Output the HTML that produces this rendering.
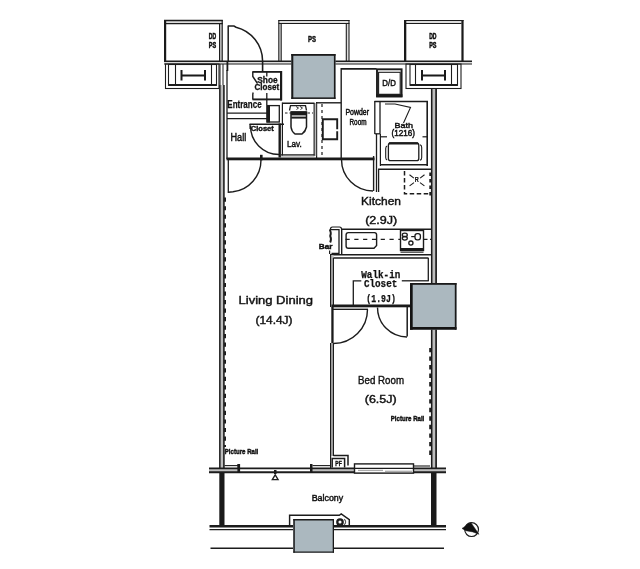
<!DOCTYPE html>
<html><head><meta charset="utf-8"><style>
html,body{margin:0;padding:0;background:#fff;width:640px;height:569px;overflow:hidden}
svg{display:block;will-change:transform}
</style></head><body>
<svg width="640" height="569" viewBox="0 0 640 569">
<g stroke="#1c1c1c" fill="none" stroke-width="1">
<rect x="166" y="21" width="57" height="2.5" fill="#dcdcdc" stroke="none" />
<rect x="220" y="23" width="2" height="38" fill="#dcdcdc" stroke="none" />
<rect x="164" y="20" width="2.2" height="42" fill="#1a1a1a" stroke="none" />
<line x1="164" y1="20.5" x2="222.8" y2="20.5" stroke-width="1.3" />
<line x1="166" y1="23.6" x2="222.8" y2="23.6" stroke-width="1.3" />
<line x1="219.6" y1="23" x2="219.6" y2="61" stroke-width="1.2" />
<line x1="222.2" y1="20" x2="222.2" y2="61" stroke-width="1.2" />
<text x="208.8" y="39.2" font-size="9" font-weight="bold" font-family='"Liberation Sans",sans-serif' textLength="7.3" lengthAdjust="spacingAndGlyphs" stroke="#111" stroke-width="0.6" fill="#111" >DD</text>
<text x="208.8" y="48" font-size="9" font-weight="bold" font-family='"Liberation Sans",sans-serif' textLength="7.3" lengthAdjust="spacingAndGlyphs" stroke="#111" stroke-width="0.6" fill="#111" >PS</text>
<rect x="279" y="21" width="70" height="2.5" fill="#dcdcdc" stroke="none" />
<rect x="279" y="23" width="2" height="38" fill="#dcdcdc" stroke="none" />
<rect x="346.5" y="23" width="2.2" height="38" fill="#dcdcdc" stroke="none" />
<line x1="278.5" y1="20.5" x2="349.5" y2="20.5" stroke-width="1.2" />
<line x1="278.5" y1="23.5" x2="349.5" y2="23.5" stroke-width="1.2" />
<line x1="278.8" y1="20" x2="278.8" y2="61" stroke-width="1.1" />
<line x1="281.2" y1="23" x2="281.2" y2="61" stroke-width="1.1" />
<line x1="346.3" y1="23" x2="346.3" y2="61" stroke-width="1.1" />
<line x1="349" y1="20" x2="349" y2="61" stroke-width="1.1" />
<text x="308" y="42.2" font-size="9" font-weight="bold" font-family='"Liberation Sans",sans-serif' textLength="8" lengthAdjust="spacingAndGlyphs" stroke="#111" stroke-width="0.5" fill="#111" >PS</text>
<rect x="406" y="21" width="56" height="2.5" fill="#dcdcdc" stroke="none" />
<rect x="404" y="20" width="2.3" height="42" fill="#1a1a1a" stroke="none" />
<rect x="461.4" y="20" width="2.2" height="42" fill="#1a1a1a" stroke="none" />
<line x1="404" y1="20.5" x2="463.5" y2="20.5" stroke-width="1.2" />
<line x1="406" y1="23.5" x2="461.5" y2="23.5" stroke-width="1.2" />
<text x="429.2" y="39.2" font-size="9" font-weight="bold" font-family='"Liberation Sans",sans-serif' textLength="7.3" lengthAdjust="spacingAndGlyphs" stroke="#111" stroke-width="0.6" fill="#111" >DD</text>
<text x="429.2" y="48" font-size="9" font-weight="bold" font-family='"Liberation Sans",sans-serif' textLength="7.3" lengthAdjust="spacingAndGlyphs" stroke="#111" stroke-width="0.6" fill="#111" >PS</text>
<rect x="164" y="61.6" width="308" height="2" fill="#dcdcdc" stroke="none" />
<line x1="164" y1="61.3" x2="472" y2="61.3" stroke-width="1.4" />
<line x1="164" y1="64" x2="472" y2="64" stroke-width="1.1" />
<rect x="165.5" y="64" width="53.5" height="24.5" fill="none" stroke-width="1.1" />
<rect x="168.5" y="64.5" width="48.0" height="20.8" fill="none" stroke-width="1.1" />
<line x1="168.5" y1="85" x2="216.5" y2="85" stroke-width="1.8" />
<line x1="175.5" y1="64.5" x2="175.5" y2="85" stroke-width="1.1" />
<line x1="211.5" y1="64.5" x2="211.5" y2="85" stroke-width="1.1" />
<rect x="180.5" y="70" width="2" height="10.5" fill="#1a1a1a" stroke="none" />
<rect x="204" y="70" width="2" height="10.5" fill="#1a1a1a" stroke="none" />
<rect x="181.0" y="74.5" width="23.5" height="2" fill="#1a1a1a" stroke="none" />
<rect x="406" y="64" width="55" height="24.5" fill="none" stroke-width="1.1" />
<rect x="410" y="64.5" width="47.5" height="20.8" fill="none" stroke-width="1.1" />
<line x1="410" y1="85" x2="457.5" y2="85" stroke-width="1.8" />
<line x1="415.5" y1="64.5" x2="415.5" y2="85" stroke-width="1.1" />
<line x1="451.5" y1="64.5" x2="451.5" y2="85" stroke-width="1.1" />
<rect x="421" y="70" width="2" height="10.5" fill="#1a1a1a" stroke="none" />
<rect x="444" y="70" width="2" height="10.5" fill="#1a1a1a" stroke="none" />
<rect x="421.5" y="74.5" width="23" height="2" fill="#1a1a1a" stroke="none" />
<rect x="291.3" y="54" width="44.2" height="44.9" fill="#abb8bf" stroke="none" />
<rect x="291.3" y="54" width="2" height="44.9" fill="#1a1a1a" stroke="none" />
<rect x="291.3" y="54" width="44.2" height="1.8" fill="#1a1a1a" stroke="none" />
<rect x="333.9" y="54" width="1.6" height="44.9" fill="#1a1a1a" stroke="none" />
<rect x="291.3" y="97.4" width="44.2" height="1.5" fill="#1a1a1a" stroke="none" />
<line x1="220" y1="64" x2="220" y2="85" stroke-width="1" />
<line x1="223" y1="64" x2="223" y2="85" stroke-width="1" />
<rect x="219.2" y="85" width="5.2" height="383" fill="#bdbdbd" stroke="none" />
<line x1="219.85" y1="85" x2="219.85" y2="468" stroke-width="1.5" />
<line x1="223.9" y1="85" x2="223.9" y2="468" stroke-width="1.55" />
<rect x="431.2" y="89" width="5" height="194" fill="#bdbdbd" stroke="none" />
<line x1="431.7" y1="89" x2="431.7" y2="283" stroke-width="1.55" />
<line x1="436.1" y1="89" x2="436.1" y2="283" stroke-width="1.7" />
<rect x="431.2" y="329" width="5" height="139" fill="#bdbdbd" stroke="none" />
<line x1="431.7" y1="329" x2="431.7" y2="468" stroke-width="1.55" />
<line x1="436.1" y1="329" x2="436.1" y2="468" stroke-width="1.7" />
<line x1="225.05" y1="197.6" x2="225.05" y2="447" stroke-width="1.9" stroke-dasharray="4.2 4.33"/>
<line x1="430.15" y1="347.9" x2="430.15" y2="456" stroke-width="1.9" stroke-dasharray="4.4 4.15"/>
<line x1="228.2" y1="25.5" x2="228.2" y2="62" stroke-width="1.5" />
<path d="M228.2 26 L234 26 L236 27.2 A35 35 0 0 1 262.6 61" stroke-width="1.5" fill="none" />
<rect x="226.5" y="61" width="1.8" height="10" fill="#1a1a1a" stroke="none" />
<rect x="261.8" y="61" width="1.6" height="10" fill="#1a1a1a" stroke="none" />
<line x1="227" y1="70" x2="227" y2="159" stroke-width="1.3" />
<line x1="252.5" y1="71.9" x2="282" y2="71.9" stroke-width="1.8" />
<rect x="280" y="71" width="2.2" height="29.5" fill="#1a1a1a" stroke="none" />
<line x1="252.5" y1="99.4" x2="282" y2="99.4" stroke-width="1.9" />
<path d="M252.8 71.5 V76.5 L257.5 83.5 M253.2 92.5 L252.8 94 V99.5" stroke-width="1.4" fill="none" />
<line x1="266.8" y1="72" x2="266.8" y2="76.5" stroke-width="1.3" />
<line x1="266.8" y1="93" x2="266.8" y2="105" stroke-width="1.3" />
<text x="257.3" y="83.4" font-size="8.5" font-weight="bold" font-family='"Liberation Sans",sans-serif' textLength="20.3" lengthAdjust="spacingAndGlyphs" stroke="#111" stroke-width="0.3" fill="#111" >Shoe</text>
<text x="254.5" y="90.3" font-size="8.5" font-weight="bold" font-family='"Liberation Sans",sans-serif' textLength="24.7" lengthAdjust="spacingAndGlyphs" stroke="#111" stroke-width="0.3" fill="#111" >Closet</text>
<text x="227.3" y="108.1" font-size="10" font-weight="bold" font-family='"Liberation Sans",sans-serif' textLength="34.3" lengthAdjust="spacingAndGlyphs" stroke="#111" stroke-width="0.25" fill="#111" >Entrance</text>
<line x1="227" y1="113.2" x2="267" y2="113.2" stroke-width="1.2" />
<line x1="227" y1="118.6" x2="267" y2="118.6" stroke-width="1.2" />
<rect x="266.5" y="105" width="3.5" height="17.5" fill="#1a1a1a" stroke="none" />
<rect x="267" y="105.6" width="12.3" height="16.4" fill="none" stroke-width="1.3" />
<line x1="249.5" y1="124.2" x2="284" y2="124.2" stroke-width="1.5" />
<line x1="250" y1="124" x2="250" y2="129" stroke-width="1.1" />
<text x="250.8" y="130.5" font-size="6.3" font-weight="bold" font-family='"Liberation Sans",sans-serif' textLength="23" lengthAdjust="spacingAndGlyphs" stroke="#111" stroke-width="0.35" fill="#111" >Closet</text>
<text x="230.5" y="140.5" font-size="10" font-weight="normal" font-family='"Liberation Sans",sans-serif' textLength="15.7" lengthAdjust="spacingAndGlyphs" stroke="#111" stroke-width="0.45" fill="#111" >Hall</text>
<path d="M250.5 125.5 A28.5 28.5 0 0 0 279 154.5" stroke-width="1.4" fill="none" />
<rect x="278.5" y="123.5" width="2.4" height="34" fill="#1a1a1a" stroke="none" />
<rect x="226.5" y="157.5" width="148" height="2.8" fill="#1a1a1a" stroke="none" />
<line x1="282.4" y1="102.5" x2="282.4" y2="156" stroke-width="1.2" />
<line x1="282.5" y1="103.2" x2="314.5" y2="103.2" stroke-width="1.5" />
<line x1="314.2" y1="103" x2="314.2" y2="156" stroke-width="1.3" />
<line x1="316.6" y1="102" x2="316.6" y2="158" stroke-width="1.2" />
<rect x="314.8" y="103" width="1.4" height="53" fill="#bbb" stroke="none" />
<rect x="281" y="155.4" width="33.5" height="1.6" fill="#ccc" stroke="none" />
<line x1="281" y1="154.8" x2="314.5" y2="154.8" stroke-width="1.2" />
<line x1="285" y1="113" x2="313" y2="113" stroke-width="1.1" stroke-dasharray="2.5 2"/>
<path d="M289.5 110.5 L290.5 105.6 H305.5 L306.5 110.5" stroke-width="1.3" fill="none" />
<path d="M296 106.5 L298.5 108 L296.5 109.5 M300 106.5 L302.5 108 L300.5 109.5" stroke-width="0.9" fill="none" />
<path d="M291 112 L306.5 112 L306.5 127 Q305.5 131.5 302 134 L295 134 Q291.5 131.5 291 127 Z" stroke-width="1.5" fill="none" />
<rect x="291" y="111.4" width="15.5" height="4" fill="#1a1a1a" stroke="none" />
<line x1="291.2" y1="117.6" x2="306.2" y2="117.6" stroke-width="2" />
<text x="287" y="147.3" font-size="9.3" font-weight="normal" font-family='"Liberation Sans",sans-serif' textLength="14.8" lengthAdjust="spacingAndGlyphs" stroke="#111" stroke-width="0.45" fill="#111" >Lav.</text>
<line x1="316.5" y1="102.8" x2="341" y2="102.8" stroke-width="1.4" />
<line x1="322" y1="104" x2="322" y2="156" stroke-width="1.2" stroke-dasharray="3 3"/>
<path d="M337.2 129.3 V119.3 H322.8 V139.3 H337.2 V131.2" stroke-width="1.9" fill="none" />
<line x1="341.2" y1="68" x2="341.2" y2="159" stroke-width="1.4" />
<line x1="341" y1="68.9" x2="376.5" y2="68.9" stroke-width="1.9" />
<text x="345.5" y="115" font-size="8.8" font-weight="normal" font-family='"Liberation Sans",sans-serif' textLength="23.5" lengthAdjust="spacingAndGlyphs" stroke="#111" stroke-width="0.5" fill="#111" >Powder</text>
<text x="349.5" y="125" font-size="8.8" font-weight="normal" font-family='"Liberation Sans",sans-serif' textLength="17" lengthAdjust="spacingAndGlyphs" stroke="#111" stroke-width="0.5" fill="#111" >Room</text>
<line x1="374.8" y1="101" x2="374.8" y2="134" stroke-width="1.3" />
<line x1="380" y1="101" x2="380" y2="134" stroke-width="1.3" />
<line x1="374.8" y1="133.8" x2="380" y2="133.8" stroke-width="1.3" />
<line x1="376.5" y1="134" x2="376.5" y2="192" stroke-width="1.3" />
<line x1="378.6" y1="169" x2="378.6" y2="192" stroke-width="1.3" />
<line x1="373.6" y1="156" x2="373.6" y2="191" stroke-width="1.4" />
<path d="M341.5 159.5 A31.5 31.5 0 0 0 373 191" stroke-width="1.4" fill="none" />
<rect x="377" y="69.3" width="24.6" height="27" fill="none" stroke-width="1.9" />
<rect x="378.6" y="72.3" width="21.6" height="22" fill="none" stroke-width="1.1" />
<rect x="376.2" y="94.2" width="26.2" height="3.1" fill="#1a1a1a" stroke="none" />
<text x="382.3" y="86" font-size="8.8" font-weight="normal" font-family='"Liberation Sans",sans-serif' textLength="13.5" lengthAdjust="spacingAndGlyphs" stroke="#111" stroke-width="0.45" fill="#111" >D/D</text>
<line x1="374.5" y1="101.5" x2="428" y2="101.5" stroke-width="1.4" />
<line x1="427.2" y1="101.5" x2="427.2" y2="166" stroke-width="1.6" />
<line x1="380" y1="164.7" x2="428" y2="164.7" stroke-width="1.6" />
<line x1="378" y1="169.2" x2="431" y2="169.2" stroke-width="1.5" />
<path d="M385 104 L395 104 L410.5 107.5 L403.5 123" stroke-width="1.1" fill="none" />
<text x="394.5" y="127.8" font-size="8" font-weight="normal" font-family='"Liberation Sans",sans-serif' textLength="18.5" lengthAdjust="spacingAndGlyphs" stroke="#111" stroke-width="0.45" fill="#111" >Bath</text>
<text x="391.5" y="136.3" font-size="8.3" font-weight="normal" font-family='"Liberation Sans",sans-serif' textLength="23.5" lengthAdjust="spacingAndGlyphs" stroke="#111" stroke-width="0.45" fill="#111" >(1216)</text>
<line x1="381" y1="136.8" x2="387" y2="136.8" stroke-width="1.2" />
<line x1="422.5" y1="136.8" x2="427.5" y2="136.8" stroke-width="1.2" />
<path d="M390.5 142.8 H416.6 Q418.8 142.8 418.8 145.2 V158.4 Q418.8 160.6 416.6 160.6 H390.5 Q388.4 160.6 388.4 158.4 V145.2 Q388.4 142.8 390.5 142.8 Z" stroke-width="1.3" fill="none" />
<line x1="389" y1="143.4" x2="418" y2="143.4" stroke-width="2.2" />
<path d="M387.2 146 Q385.7 146.5 385.7 148.5 V157.5 Q385.7 159.5 387.2 160" stroke-width="1.1" fill="none" />
<path d="M420 144.8 Q421.7 145.3 421.7 147.5 V157.5 Q421.7 159.7 420 160.3" stroke-width="1.1" fill="none" />
<line x1="380.4" y1="134" x2="380.4" y2="166" stroke-width="1.2" />
<path d="M404.5 171 V193.8 H430" stroke-width="1.5" fill="none" stroke-dasharray="4.5 2.5"/>
<line x1="430.4" y1="172.5" x2="430.4" y2="196" stroke-width="2.2" stroke-dasharray="3.5 3"/>
<line x1="409.5" y1="174.8" x2="424.5" y2="186" stroke-width="1.1" stroke-dasharray="5.5 7.6"/>
<line x1="424.5" y1="174.8" x2="409.5" y2="186" stroke-width="1.1" stroke-dasharray="5.5 7.6"/>
<text x="414.8" y="181.8" font-size="6.5" font-weight="bold" font-family='"Liberation Sans",sans-serif' textLength="4" lengthAdjust="spacingAndGlyphs" stroke="#111" stroke-width="0.2" fill="#111" >R</text>
<text x="361" y="204.6" font-size="10.5" font-weight="normal" font-family='"Liberation Sans",sans-serif' textLength="40" lengthAdjust="spacingAndGlyphs" stroke="#111" stroke-width="0.4" fill="#111" >Kitchen</text>
<text x="365.2" y="224.2" font-size="10.2" font-weight="normal" font-family='"Liberation Sans",sans-serif' textLength="32" lengthAdjust="spacingAndGlyphs" stroke="#111" stroke-width="0.4" fill="#111" >(2.9J)</text>
<path d="M330.4 229.5 Q330.4 227 332.5 227 H339.5 Q341.6 227 341.6 229.5" stroke-width="1.2" fill="none" />
<path d="M329.6 229.6 H339 V253.3 H331.5" stroke-width="1.3" fill="none" />
<path d="M329.8 229.6 Q331.6 233 330.2 236 Q331.8 239 330.2 242.5" stroke-width="1.9" fill="none" />
<line x1="329.6" y1="250.5" x2="329.6" y2="254" stroke-width="1.2" />
<line x1="341.5" y1="229.2" x2="431" y2="229.2" stroke-width="1.5" />
<line x1="341.7" y1="229" x2="341.7" y2="255" stroke-width="1.4" />
<line x1="330" y1="254.8" x2="431" y2="254.8" stroke-width="1.5" />
<path d="M348.3 232.6 H374.4 Q376.6 232.6 376.6 234.8 V245.5 L374 248.3 H348.3 Q346.1 248.3 346.1 246.1 V234.8 Q346.1 232.6 348.3 232.6 Z" stroke-width="1.4" fill="none" />
<line x1="345.5" y1="239.4" x2="400" y2="239.4" stroke-width="1.4" stroke-dasharray="4.2 4.6"/>
<line x1="424" y1="239.3" x2="431" y2="239.3" stroke-width="1.3" stroke-dasharray="3.5 2.5"/>
<rect x="400.5" y="230.5" width="23" height="20" fill="none" stroke-width="1.4" />
<rect x="400.5" y="248" width="23" height="2.6" fill="#1a1a1a" stroke="none" />
<line x1="400.5" y1="252.2" x2="423.5" y2="252.2" stroke-width="1" />
<ellipse cx="404.8" cy="234.9" rx="2.5" ry="1.8" stroke-width="1.3"/>
<ellipse cx="404.8" cy="238.3" rx="2.5" ry="1.8" stroke-width="1.3"/>
<rect x="415" y="233.6" width="5.4" height="6.2" rx="2.2" stroke-width="1.3"/>
<circle cx="410.9" cy="243.1" r="2.1" stroke-width="1.3"/>
<line x1="411.2" y1="236.6" x2="415" y2="236.6" stroke-width="1.2" />
<text x="318.7" y="248.6" font-size="7.2" font-weight="bold" font-family='"Liberation Sans",sans-serif' textLength="13.8" lengthAdjust="spacingAndGlyphs" stroke="#111" stroke-width="0.4" fill="#111" >Bar</text>
<rect x="330.2" y="255" width="3.4" height="52" fill="#bdbdbd" stroke="none" />
<line x1="330.6" y1="255" x2="330.6" y2="307" stroke-width="1.2" />
<line x1="333.4" y1="258" x2="333.4" y2="307" stroke-width="1.2" />
<line x1="333.4" y1="258" x2="428.5" y2="258" stroke-width="1.4" />
<line x1="428.3" y1="258" x2="428.3" y2="281" stroke-width="1.3" />
<path d="M353.3 305 V280.8 H361.3" stroke-width="1.3" fill="none" />
<line x1="401.8" y1="280.8" x2="428.8" y2="280.8" stroke-width="1.3" />
<text x="361.3" y="278.4" font-size="10.5" font-weight="bold" font-family='"Liberation Mono",monospace' textLength="39" lengthAdjust="spacingAndGlyphs" stroke="#111" stroke-width="0.25" fill="#111" >Walk-in</text>
<text x="363.9" y="287" font-size="10.5" font-weight="bold" font-family='"Liberation Mono",monospace' textLength="33.4" lengthAdjust="spacingAndGlyphs" stroke="#111" stroke-width="0.25" fill="#111" >Closet</text>
<text x="366.3" y="302.2" font-size="10.5" font-weight="bold" font-family='"Liberation Mono",monospace' textLength="29.5" lengthAdjust="spacingAndGlyphs" stroke="#111" stroke-width="0.25" fill="#111" >(1.9J)</text>
<rect x="331.5" y="304.5" width="79" height="2.8" fill="#1a1a1a" stroke="none" />
<rect x="332" y="307.5" width="36" height="2.2" fill="#aaa" stroke="none" />
<line x1="332" y1="309.5" x2="368" y2="309.5" stroke-width="1" />
<rect x="331.3" y="307" width="2.3" height="36.5" fill="#1a1a1a" stroke="none" />
<path d="M367.5 309.5 A34 34 0 0 1 333.5 343.5" stroke-width="1.4" fill="none" />
<line x1="407.2" y1="305" x2="407.2" y2="336.5" stroke-width="1.5" />
<path d="M377.5 307.5 A29.5 29.5 0 0 0 407 337" stroke-width="1.4" fill="none" />
<rect x="410" y="283" width="46.5" height="46.7" fill="#abb8bf" stroke="none" />
<rect x="410" y="283" width="2.7" height="46.7" fill="#141414" stroke="none" />
<rect x="410" y="327" width="46.5" height="2.7" fill="#141414" stroke="none" />
<rect x="410" y="283" width="46.5" height="1.8" fill="#1a1a1a" stroke="none" />
<rect x="454.8" y="283" width="1.7" height="46.7" fill="#1a1a1a" stroke="none" />
<rect x="330.2" y="343" width="3.4" height="113" fill="#bdbdbd" stroke="none" />
<line x1="330.6" y1="343" x2="330.6" y2="468" stroke-width="1.2" />
<line x1="333.4" y1="343" x2="333.4" y2="456" stroke-width="1.2" />
<path d="M333.4 455.6 H348 V465.5" stroke-width="1.5" fill="none" />
<path d="M332.2 467.5 V458.5 H344.6 V467.5" stroke-width="1.5" fill="none" />
<text x="335.3" y="466" font-size="7" font-weight="bold" font-family='"Liberation Sans",sans-serif' textLength="6.5" lengthAdjust="spacingAndGlyphs" stroke="#111" stroke-width="0.4" fill="#111" >PF</text>
<text x="238.5" y="304" font-size="11" font-weight="normal" font-family='"Liberation Sans",sans-serif' textLength="74.5" lengthAdjust="spacingAndGlyphs" stroke="#111" stroke-width="0.4" fill="#111" >Living Dining</text>
<text x="255.5" y="323.6" font-size="10.3" font-weight="normal" font-family='"Liberation Sans",sans-serif' textLength="37" lengthAdjust="spacingAndGlyphs" stroke="#111" stroke-width="0.4" fill="#111" >(14.4J)</text>
<text x="358" y="383.6" font-size="11" font-weight="normal" font-family='"Liberation Sans",sans-serif' textLength="46" lengthAdjust="spacingAndGlyphs" stroke="#111" stroke-width="0.4" fill="#111" >Bed Room</text>
<text x="364.8" y="402.9" font-size="10.3" font-weight="normal" font-family='"Liberation Sans",sans-serif' textLength="31.8" lengthAdjust="spacingAndGlyphs" stroke="#111" stroke-width="0.4" fill="#111" >(6.5J)</text>
<text x="390.8" y="421" font-size="7.5" font-weight="bold" font-family='"Liberation Sans",sans-serif' textLength="33.5" lengthAdjust="spacingAndGlyphs" stroke="#111" stroke-width="0.45" fill="#111" >Picture Rail</text>
<text x="224.8" y="454" font-size="7.5" font-weight="bold" font-family='"Liberation Sans",sans-serif' textLength="33.5" lengthAdjust="spacingAndGlyphs" stroke="#111" stroke-width="0.45" fill="#111" >Picture Rail</text>
<line x1="228.3" y1="159" x2="228.3" y2="193" stroke-width="1.3" />
<path d="M228.5 192.2 L233 191.8 A32 32 0 0 0 261 160" stroke-width="1.4" fill="none" />
<rect x="260" y="154.8" width="2.6" height="5.5" fill="#1a1a1a" stroke="none" />
<rect x="209" y="469" width="28" height="3" fill="#c0c0c0" stroke="none" />
<rect x="312" y="469.2" width="42" height="2.6" fill="#bdbdbd" stroke="none" />
<rect x="413" y="469.2" width="33" height="2.6" fill="#c0c0c0" stroke="none" />
<line x1="209" y1="468.4" x2="446" y2="468.4" stroke-width="1.7" />
<line x1="209" y1="472.3" x2="446" y2="472.3" stroke-width="1.9" />
<line x1="224.5" y1="465.6" x2="238" y2="465.6" stroke-width="1.1" />
<line x1="312.5" y1="465.6" x2="331" y2="465.6" stroke-width="1.1" />
<rect x="237.3" y="464" width="2.8" height="8.8" fill="#1a1a1a" stroke="none" />
<rect x="310" y="464" width="2.5" height="8.8" fill="#1a1a1a" stroke="none" />
<rect x="274" y="470" width="2.5" height="4" fill="#1a1a1a" stroke="none" />
<path d="M272.3 479.6 L275.2 474.8 L278.1 479.6 Z" stroke-width="1.3" fill="none" />
<rect x="354.5" y="463.9" width="59" height="9.2" fill="#fff" stroke-width="1.4" />
<line x1="354.5" y1="468.4" x2="413.5" y2="468.4" stroke-width="1.3" />
<line x1="358" y1="470.4" x2="383" y2="470.4" stroke-width="1.3" stroke="#aaa"/>
<line x1="385" y1="471.3" x2="412" y2="471.3" stroke-width="1.3" stroke="#aaa"/>
<line x1="414" y1="466" x2="430" y2="466" stroke-width="1.1" />
<rect x="219.3" y="473" width="5.2" height="53" fill="#1a1a1a" stroke="none" />
<rect x="431" y="473" width="5.5" height="53" fill="#1a1a1a" stroke="none" />
<line x1="209.5" y1="526.2" x2="293" y2="526.2" stroke-width="2.4" />
<line x1="209.5" y1="529.7" x2="293" y2="529.7" stroke-width="1.3" />
<line x1="334" y1="526.2" x2="446" y2="526.2" stroke-width="2.4" />
<line x1="334" y1="529.7" x2="446" y2="529.7" stroke-width="1.3" />
<line x1="210.5" y1="548.3" x2="293" y2="548.3" stroke-width="1.4" />
<line x1="334" y1="548.3" x2="444" y2="548.3" stroke-width="1.4" />
<path d="M289.6 526 V515.3 H339.3 L341.2 514 L349.3 519.7 V525.5" stroke-width="1.45" fill="none" />
<rect x="293.3" y="519" width="40.7" height="33.7" fill="#abb8bf" stroke="none" />
<rect x="293.3" y="519" width="1.5" height="33.7" fill="#1a1a1a" stroke="none" />
<rect x="293.3" y="519" width="40.7" height="1.5" fill="#1a1a1a" stroke="none" />
<rect x="332.7" y="519" width="1.3" height="33.7" fill="#1a1a1a" stroke="none" />
<rect x="293.3" y="551.5" width="40.7" height="1.2" fill="#1a1a1a" stroke="none" />
<circle cx="340" cy="522" r="2.7" stroke-width="2.3"/>
<circle cx="340" cy="522" r="1.1" fill="#fff" stroke="none"/>
<path d="M344 519.3 A3 3 0 0 1 344 524.7" stroke-width="1.1" fill="none" stroke="#555"/>
<text x="311.7" y="500.6" font-size="9" font-weight="normal" font-family='"Liberation Sans",sans-serif' textLength="31.5" lengthAdjust="spacingAndGlyphs" stroke="#111" stroke-width="0.45" fill="#111" >Balcony</text>
<circle cx="471.6" cy="529.6" r="6.9" stroke-width="1.15"/>
<path d="M462 528.4 L465.3 526.3 Q467.5 523 471 522.7 L479 534.3 L472.7 531.9 L465.8 530.7 Z" stroke-width="0.5" fill="#111" />
</g>
</svg>
</body></html>
